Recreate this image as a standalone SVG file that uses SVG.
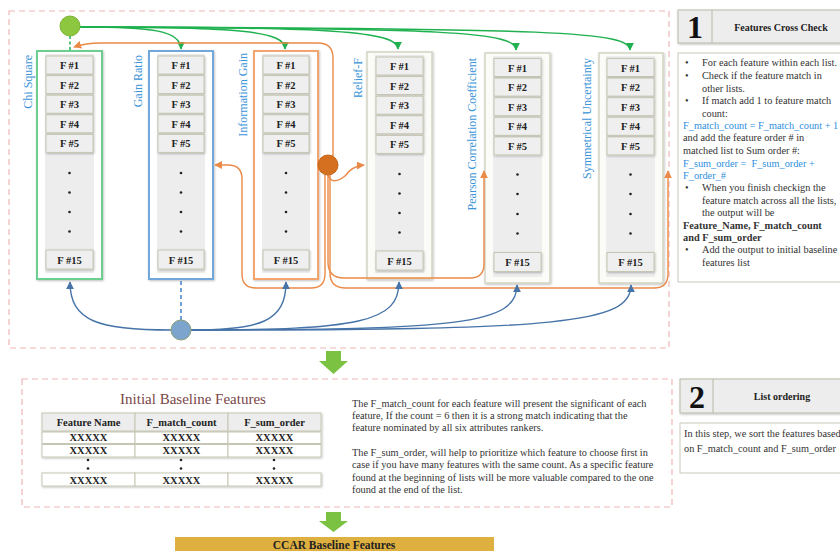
<svg xmlns="http://www.w3.org/2000/svg" width="840" height="551" viewBox="0 0 840 551">
<defs>
<style>
.ser{font-family:"Liberation Serif","Times New Roman",serif}
.dash{fill:none;stroke:#f0b8b8;stroke-width:1.2;stroke-dasharray:6 4}
.inner{fill:#ededed;stroke:none}
.cell{fill:#efefef;stroke:#c6c6b4;stroke-width:1;filter:url(#sh)}
.ct{font-family:"Liberation Serif","Times New Roman",serif;font-size:10.5px;font-weight:bold;fill:#222;text-anchor:middle}
.lbl{font-family:"Liberation Serif","Times New Roman",serif;font-size:12px;fill:#3a94d8;text-anchor:end}
.dot{fill:#222}
.g{fill:none;stroke:#1fb14f;stroke-width:1.5}
.o{fill:none;stroke:#eb8a48;stroke-width:1.4}
.b{fill:none;stroke:#4673a8;stroke-width:1.4}
.pt{font-family:"Liberation Serif","Times New Roman",serif;font-size:10.3px;fill:#333}
.blue{fill:#2e8fde}
.hd{fill:#ededed;stroke:#b9b9a8;stroke-width:1;filter:url(#sh)}
.tb{fill:#fff;stroke:#c9c9bf;stroke-width:1}
.th{font-family:"Liberation Serif","Times New Roman",serif;font-size:10.5px;font-weight:bold;fill:#222;text-anchor:middle}
.arr{fill:#7cc242}
</style>
<filter id="sh" x="-20%" y="-20%" width="140%" height="140%">
<feDropShadow dx="0.8" dy="1" stdDeviation="0.8" flood-color="#000" flood-opacity="0.25"/>
</filter>
<marker id="mg" viewBox="0 0 10 10" refX="9" refY="5" markerWidth="8" markerHeight="8" orient="auto" markerUnits="userSpaceOnUse"><path d="M0,0 L10,5 L0,10 z" fill="#1fb14f"/></marker>
<marker id="mo" viewBox="0 0 10 10" refX="9" refY="5" markerWidth="8" markerHeight="8" orient="auto" markerUnits="userSpaceOnUse"><path d="M0,0 L10,5 L0,10 z" fill="#eb8a48"/></marker>
<marker id="mb" viewBox="0 0 10 10" refX="9" refY="5" markerWidth="8" markerHeight="8" orient="auto" markerUnits="userSpaceOnUse"><path d="M0,0 L10,5 L0,10 z" fill="#4673a8"/></marker>
</defs>
<rect width="840" height="551" fill="#fff"/>

<!-- section frames -->
<rect class="dash" x="9" y="11" width="660" height="337"/>
<rect class="dash" x="22" y="379" width="650" height="128"/>

<!-- Column 1: Chi Square -->
<g id="chi-square">
<rect x="37" y="51" width="65" height="228" fill="#fff" stroke="#6dcf8f" stroke-width="2" filter="url(#sh)"/>
<rect class="inner" x="45" y="54" width="49" height="219"/>
<rect class="cell" x="46" y="56" width="47" height="18"/><text class="ct" x="69.5" y="69">F #1</text>
<rect class="cell" x="46" y="75.6" width="47" height="18"/><text class="ct" x="69.5" y="88.6">F #2</text>
<rect class="cell" x="46" y="95.2" width="47" height="18"/><text class="ct" x="69.5" y="108.2">F #3</text>
<rect class="cell" x="46" y="114.8" width="47" height="18"/><text class="ct" x="69.5" y="127.8">F #4</text>
<rect class="cell" x="46" y="134.4" width="47" height="18"/><text class="ct" x="69.5" y="147.4">F #5</text>
<circle class="dot" cx="69.5" cy="173" r="1.3"/><circle class="dot" cx="69.5" cy="192.5" r="1.3"/><circle class="dot" cx="69.5" cy="212" r="1.3"/><circle class="dot" cx="69.5" cy="231.5" r="1.3"/>
<rect class="cell" x="46" y="250" width="47" height="19"/><text class="ct" x="69.5" y="263.5">F #15</text>
<text class="lbl" transform="translate(32,55) rotate(-90)">Chi Square</text>
</g>

<!-- Column 2: Gain Ratio -->
<g id="gain-ratio">
<rect x="149" y="51" width="64" height="228" fill="#fff" stroke="#6fa8dc" stroke-width="2" filter="url(#sh)"/>
<rect class="inner" x="157" y="54" width="48" height="219"/>
<rect class="cell" x="158" y="56" width="46" height="18"/><text class="ct" x="181" y="69">F #1</text>
<rect class="cell" x="158" y="75.6" width="46" height="18"/><text class="ct" x="181" y="88.6">F #2</text>
<rect class="cell" x="158" y="95.2" width="46" height="18"/><text class="ct" x="181" y="108.2">F #3</text>
<rect class="cell" x="158" y="114.8" width="46" height="18"/><text class="ct" x="181" y="127.8">F #4</text>
<rect class="cell" x="158" y="134.4" width="46" height="18"/><text class="ct" x="181" y="147.4">F #5</text>
<circle class="dot" cx="181" cy="173" r="1.3"/><circle class="dot" cx="181" cy="192.5" r="1.3"/><circle class="dot" cx="181" cy="212" r="1.3"/><circle class="dot" cx="181" cy="231.5" r="1.3"/>
<rect class="cell" x="158" y="250" width="46" height="19"/><text class="ct" x="181" y="263.5">F #15</text>
<text class="lbl" transform="translate(142,55) rotate(-90)">Gain Ratio</text>
</g>

<!-- Column 3: Information Gain -->
<g id="information-gain">
<rect x="254" y="51" width="64" height="228" fill="#fff" stroke="#f4a46e" stroke-width="2" filter="url(#sh)"/>
<rect class="inner" x="262" y="54" width="48" height="219"/>
<rect class="cell" x="263" y="56" width="46" height="18"/><text class="ct" x="286" y="69">F #1</text>
<rect class="cell" x="263" y="75.6" width="46" height="18"/><text class="ct" x="286" y="88.6">F #2</text>
<rect class="cell" x="263" y="95.2" width="46" height="18"/><text class="ct" x="286" y="108.2">F #3</text>
<rect class="cell" x="263" y="114.8" width="46" height="18"/><text class="ct" x="286" y="127.8">F #4</text>
<rect class="cell" x="263" y="134.4" width="46" height="18"/><text class="ct" x="286" y="147.4">F #5</text>
<circle class="dot" cx="286" cy="173" r="1.3"/><circle class="dot" cx="286" cy="192.5" r="1.3"/><circle class="dot" cx="286" cy="212" r="1.3"/><circle class="dot" cx="286" cy="231.5" r="1.3"/>
<rect class="cell" x="263" y="250" width="46" height="19"/><text class="ct" x="286" y="263.5">F #15</text>
<text class="lbl" transform="translate(247,53) rotate(-90)">Information Gain</text>
</g>

<!-- Column 4: Relief-F -->
<g id="relief-f">
<rect x="367" y="52" width="65" height="227" fill="#fbfbf7" stroke="#d3d3c3" stroke-width="1.5" filter="url(#sh)"/>
<rect class="inner" x="375" y="55" width="49" height="218"/>
<rect class="cell" x="376" y="57" width="47" height="18"/><text class="ct" x="399.5" y="70">F #1</text>
<rect class="cell" x="376" y="76.6" width="47" height="18"/><text class="ct" x="399.5" y="89.6">F #2</text>
<rect class="cell" x="376" y="96.2" width="47" height="18"/><text class="ct" x="399.5" y="109.2">F #3</text>
<rect class="cell" x="376" y="115.8" width="47" height="18"/><text class="ct" x="399.5" y="128.8">F #4</text>
<rect class="cell" x="376" y="135.4" width="47" height="18"/><text class="ct" x="399.5" y="148.4">F #5</text>
<circle class="dot" cx="399.5" cy="174" r="1.3"/><circle class="dot" cx="399.5" cy="193.5" r="1.3"/><circle class="dot" cx="399.5" cy="213" r="1.3"/><circle class="dot" cx="399.5" cy="232.5" r="1.3"/>
<rect class="cell" x="376" y="251" width="47" height="19"/><text class="ct" x="399.5" y="264.5">F #15</text>
<text class="lbl" transform="translate(362,58) rotate(-90)">Relief-F</text>
</g>

<!-- Column 5: Pearson Correlation Coefficient -->
<g id="pearson">
<rect x="485" y="53" width="65" height="230" fill="#fbfbf7" stroke="#d3d3c3" stroke-width="1.5" filter="url(#sh)"/>
<rect class="inner" x="493" y="56" width="49" height="221"/>
<rect class="cell" x="494" y="58.5" width="47" height="18"/><text class="ct" x="517.5" y="71.5">F #1</text>
<rect class="cell" x="494" y="78.1" width="47" height="18"/><text class="ct" x="517.5" y="91.1">F #2</text>
<rect class="cell" x="494" y="97.7" width="47" height="18"/><text class="ct" x="517.5" y="110.7">F #3</text>
<rect class="cell" x="494" y="117.3" width="47" height="18"/><text class="ct" x="517.5" y="130.3">F #4</text>
<rect class="cell" x="494" y="136.9" width="47" height="18"/><text class="ct" x="517.5" y="149.9">F #5</text>
<circle class="dot" cx="517.5" cy="174.5" r="1.3"/><circle class="dot" cx="517.5" cy="194" r="1.3"/><circle class="dot" cx="517.5" cy="214" r="1.3"/><circle class="dot" cx="517.5" cy="233.5" r="1.3"/>
<rect class="cell" x="494" y="252.5" width="47" height="19"/><text class="ct" x="517.5" y="266">F #15</text>
<text class="lbl" transform="translate(476,58) rotate(-90)">Pearson Correlation Coefficient</text>
</g>

<!-- Column 6: Symmetrical Uncertainty -->
<g id="symmetrical-uncertainty">
<rect x="599" y="53" width="64" height="230" fill="#fbfbf7" stroke="#d3d3c3" stroke-width="1.5" filter="url(#sh)"/>
<rect class="inner" x="606" y="56" width="49" height="221"/>
<rect class="cell" x="607" y="58.5" width="47" height="18"/><text class="ct" x="630.5" y="71.5">F #1</text>
<rect class="cell" x="607" y="78.1" width="47" height="18"/><text class="ct" x="630.5" y="91.1">F #2</text>
<rect class="cell" x="607" y="97.7" width="47" height="18"/><text class="ct" x="630.5" y="110.7">F #3</text>
<rect class="cell" x="607" y="117.3" width="47" height="18"/><text class="ct" x="630.5" y="130.3">F #4</text>
<rect class="cell" x="607" y="136.9" width="47" height="18"/><text class="ct" x="630.5" y="149.9">F #5</text>
<circle class="dot" cx="630.5" cy="174.5" r="1.3"/><circle class="dot" cx="630.5" cy="194" r="1.3"/><circle class="dot" cx="630.5" cy="214" r="1.3"/><circle class="dot" cx="630.5" cy="233.5" r="1.3"/>
<rect class="cell" x="607" y="252.5" width="47" height="19"/><text class="ct" x="630.5" y="266">F #15</text>
<text class="lbl" transform="translate(591,58) rotate(-90)">Symmetrical Uncertainty</text>
</g>

<!-- Connectors -->
<g id="connectors">
<!-- green -->
<path class="g" d="M70 36 L70 50" stroke-width="3" stroke-dasharray="3 2.5"/>
<path class="g" d="M80 27 C150 27 181 30 181 49" marker-end="url(#mg)"/>
<path class="g" d="M80 27 C240 27 285 31 285 49" marker-end="url(#mg)"/>
<path class="g" d="M80 27 C330 27 398 31 398 49" marker-end="url(#mg)"/>
<path class="g" d="M80 27 C450 28 516 32 516 50" marker-end="url(#mg)"/>
<path class="g" d="M80 27 C560 28 630 32 630 50" marker-end="url(#mg)"/>
<!-- orange -->
<path class="o" d="M333 157 L333 58 Q333 43 318 43 L100 43 Q86 43 74 47" marker-end="url(#mo)"/>
<path class="o" d="M328 175 Q332 186 345 176 Q352 166 364 165" marker-end="url(#mo)"/>
<path class="o" d="M325 175 L325 274 Q325 288 311 288 L256 288 Q242 288 242 274 L242 179 Q242 165 228 165 L215 165" marker-end="url(#mo)"/>
<path class="o" d="M328 175 L328 262 Q328 278 344 278 L470 278 Q484 278 484 264 L484 171" marker-end="url(#mo)"/>
<path class="o" d="M330 175 L330 273 Q330 288 346 288 L654 288 Q668 288 668 274 L668 171" marker-end="url(#mo)"/>
<!-- blue -->
<path d="M181 320 L181 280" fill="none" stroke="#6f9fd4" stroke-width="2" stroke-dasharray="4 3"/>
<path class="b" d="M171 330 C100 330 70 322 70 282" marker-end="url(#mb)"/>
<path class="b" d="M190 330 C260 330 286 322 286 282" marker-end="url(#mb)"/>
<path class="b" d="M190 330 C360 330 399 322 399 282" marker-end="url(#mb)"/>
<path class="b" d="M190 330 C460 330 517 324 517 285" marker-end="url(#mb)"/>
<path class="b" d="M190 330 C560 330 631 324 631 285" marker-end="url(#mb)"/>
</g>

<!-- hub circles -->
<g id="green-hub"><circle cx="70" cy="26" r="10" fill="#8dc63f" stroke="#7cb535" stroke-width="1"/></g>
<g id="orange-hub"><circle cx="328" cy="165" r="10" fill="#d4701f" stroke="#c56418" stroke-width="1"/></g>
<g id="blue-hub"><circle cx="181" cy="330" r="10" fill="#7da4cc" stroke="#8aa07a" stroke-width="1"/></g>

<!-- Step 1 panel -->
<g id="step1-header">
<rect class="hd" x="678" y="10" width="170" height="33"/>
<line x1="712" y1="10" x2="712" y2="43" stroke="#b9b9a8"/>
<text class="ser" x="695" y="38" font-size="32" font-weight="bold" text-anchor="middle" fill="#111">1</text>
<text class="ser" x="781" y="30.5" font-size="10" font-weight="bold" text-anchor="middle" fill="#222">Features Cross Check</text>
</g>
<g id="step1-text">
<rect class="tb" x="678" y="53" width="170" height="229"/>
<g class="pt">
<text x="685" y="66">•</text><text x="702" y="66">For each feature within each list.</text>
<text x="685" y="79">•</text><text x="702" y="79">Check if the feature match in</text>
<text x="702" y="91.5">other lists.</text>
<text x="685" y="104">•</text><text x="702" y="104">If match add 1 to feature match</text>
<text x="702" y="116.5">count:</text>
<text x="683" y="129" class="blue">F_match_count = F_match_count + 1</text>
<text x="683" y="141">and add the feature order # in</text>
<text x="683" y="153.5">matched list to Sum order #:</text>
<text x="683" y="166.5" class="blue" xml:space="preserve">F_sum_order =  F_sum_order +</text>
<text x="683" y="178.5" class="blue">F_order_#</text>
<text x="685" y="191">•</text><text x="702" y="191">When you finish checkign the</text>
<text x="702" y="204">feature match across all the lists,</text>
<text x="702" y="216">the output will be</text>
<text x="683" y="228.5" font-weight="bold">Feature_Name, F_match_count</text>
<text x="683" y="240.5" font-weight="bold">and F_sum_order</text>
<text x="685" y="253">•</text><text x="702" y="253">Add the output to initial baseline</text>
<text x="702" y="265.5">features list</text>
</g>
</g>

<!-- arrows down -->
<g id="arrow-down-1"><path class="arr" d="M326 351 L341 351 L341 361 L348 361 L333.5 374 L319 361 L326 361 z"/></g>
<g id="arrow-down-2"><path class="arr" d="M326 512 L341 512 L341 521 L348 521 L333.5 532 L319 521 L326 521 z"/></g>

<!-- Initial Baseline Features table -->
<g id="initial-baseline-table">
<text class="ser" x="193" y="404" font-size="15" text-anchor="middle" fill="#7a4646">Initial Baseline Features</text>
<g filter="url(#sh)">
<rect x="42" y="413" width="93" height="18" fill="#ededed" stroke="#c6c6b4"/>
<rect x="135" y="413" width="93" height="18" fill="#ededed" stroke="#c6c6b4"/>
<rect x="228" y="413" width="93" height="18" fill="#ededed" stroke="#c6c6b4"/>
<rect x="42" y="432" width="93" height="11.5" fill="#fff" stroke="#c6c6b4"/>
<rect x="135" y="432" width="93" height="11.5" fill="#fff" stroke="#c6c6b4"/>
<rect x="228" y="432" width="93" height="11.5" fill="#fff" stroke="#c6c6b4"/>
<rect x="42" y="444.5" width="93" height="12.5" fill="#fff" stroke="#c6c6b4"/>
<rect x="135" y="444.5" width="93" height="12.5" fill="#fff" stroke="#c6c6b4"/>
<rect x="228" y="444.5" width="93" height="12.5" fill="#fff" stroke="#c6c6b4"/>
<rect x="42" y="473" width="93" height="13" fill="#fff" stroke="#c6c6b4"/>
<rect x="135" y="473" width="93" height="13" fill="#fff" stroke="#c6c6b4"/>
<rect x="228" y="473" width="93" height="13" fill="#fff" stroke="#c6c6b4"/>
</g>
<text class="th" x="88.5" y="426">Feature Name</text>
<text class="th" x="181.5" y="426">F_match_count</text>
<text class="th" x="274.5" y="426">F_sum_order</text>
<text class="th" x="88.5" y="441">XXXXX</text><text class="th" x="181.5" y="441">XXXXX</text><text class="th" x="274.5" y="441">XXXXX</text>
<text class="th" x="88.5" y="454">XXXXX</text><text class="th" x="181.5" y="454">XXXXX</text><text class="th" x="274.5" y="454">XXXXX</text>
<circle class="dot" cx="88" cy="460" r="1.3"/><circle class="dot" cx="88" cy="468.5" r="1.3"/>
<circle class="dot" cx="181" cy="460" r="1.3"/><circle class="dot" cx="181" cy="468.5" r="1.3"/>
<circle class="dot" cx="274" cy="460" r="1.3"/><circle class="dot" cx="274" cy="468.5" r="1.3"/>
<text class="th" x="88.5" y="483.5">XXXXX</text><text class="th" x="181.5" y="483.5">XXXXX</text><text class="th" x="274.5" y="483.5">XXXXX</text>
</g>

<g id="explanation-text" class="pt">
<text x="352" y="406.5">The F_match_count for each feature will present the significant of each</text>
<text x="352" y="418.5">feature, If the count = 6 then it is a strong match indicating that the</text>
<text x="352" y="431">feature nominated by all six attributes rankers.</text>
<text x="352" y="455.5">The F_sum_order, will help to prioritize which feature to choose first in</text>
<text x="352" y="468">case if you have many features with the same count. As a specific feature</text>
<text x="352" y="480.5">found at the beginning of lists will be more valuable compared to the one</text>
<text x="352" y="492.5">found at the end of the list.</text>
</g>

<!-- Step 2 panel -->
<g id="step2-header">
<rect class="hd" x="680" y="379" width="170" height="34"/>
<line x1="713" y1="379" x2="713" y2="413" stroke="#b9b9a8"/>
<text class="ser" x="697" y="407.5" font-size="32" font-weight="bold" text-anchor="middle" fill="#111">2</text>
<text class="ser" x="782" y="399.5" font-size="10" font-weight="bold" text-anchor="middle" fill="#222">List ordering</text>
</g>
<g id="step2-text">
<rect class="tb" x="680" y="423" width="170" height="50"/>
<text class="pt" x="684" y="437">In this step, we sort the features based</text>
<text class="pt" x="684" y="452">on F_match_count and F_sum_order</text>
</g>

<!-- CCAR bar -->
<g id="ccar-baseline">
<rect x="175" y="537" width="319" height="20" fill="#deb040"/>
<text class="ser" x="334" y="548.5" font-size="11.5" font-weight="bold" text-anchor="middle" fill="#222">CCAR Baseline Features</text>
</g>
</svg>
